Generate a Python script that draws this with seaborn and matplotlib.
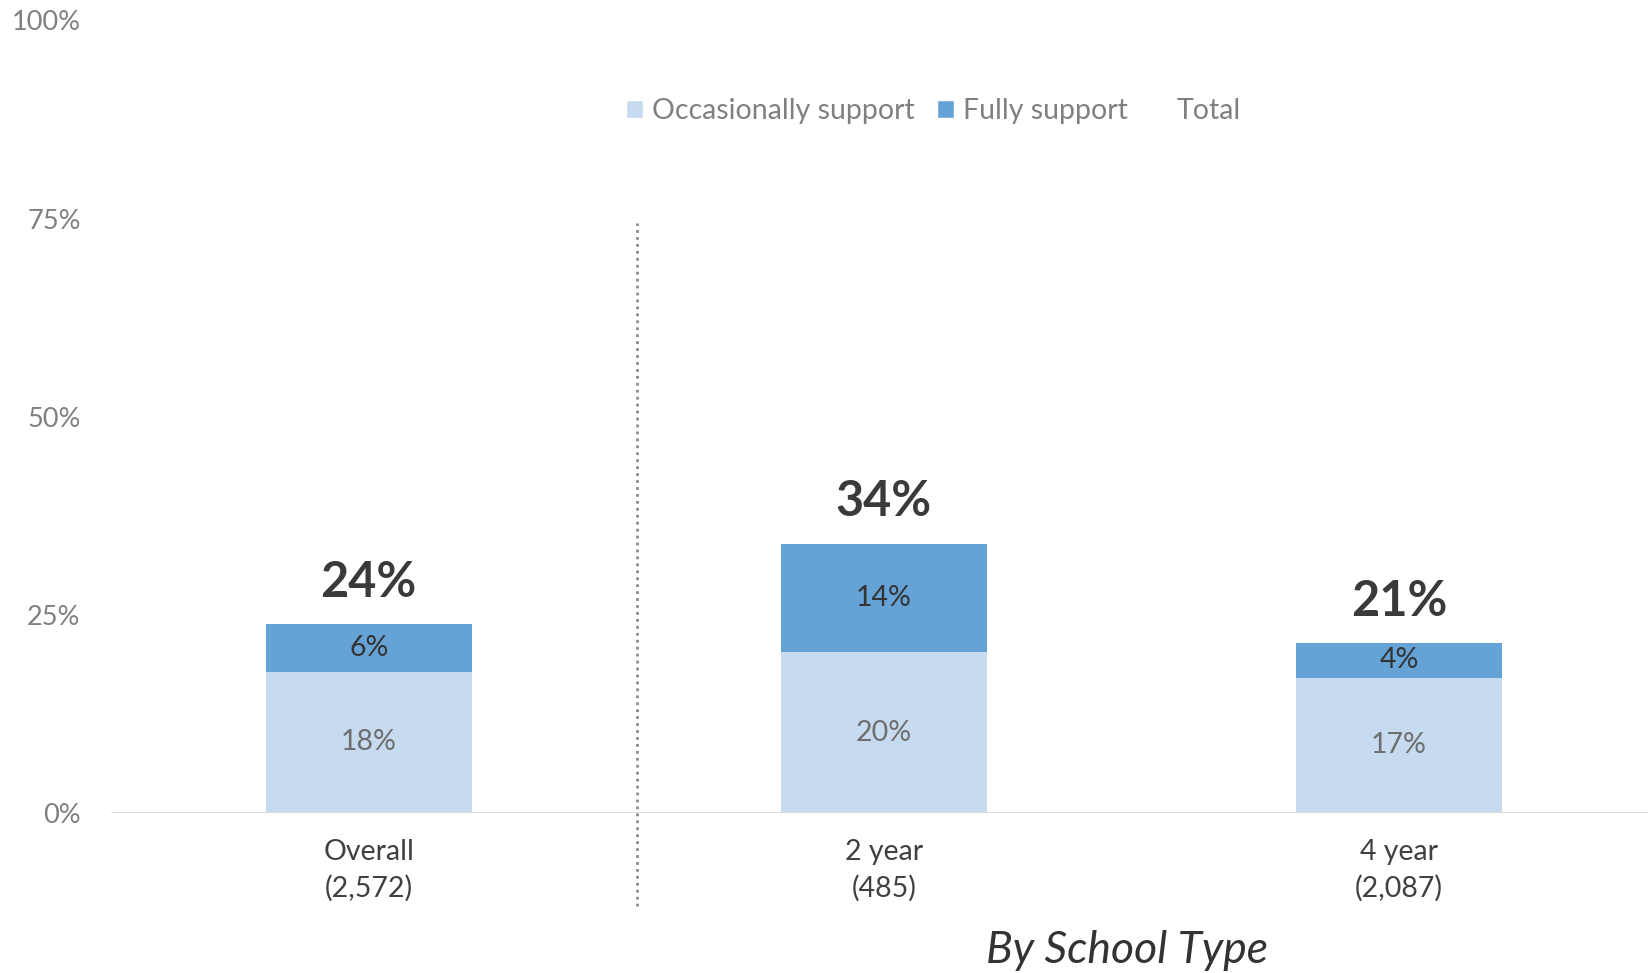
import matplotlib
matplotlib.use('Agg')
import matplotlib.pyplot as plt
from matplotlib.patches import Patch
import seaborn as sns
import pandas as pd

# dados
categorias = ['Overall\n(2,572)', '2 year\n(485)', '4 year\n(2,087)']
ocasional = [17.8, 20.3, 17.1]
total_apoio = [6.0, 13.7, 4.3]
legenda = ['Occasionally support', 'Fully support', 'Total']
yticks = [0, 25, 50, 75, 100]
yticklabels = ['0%', '25%', '50%', '75%', '100%']

cor_clara = '#C6DBEF'
cor_escura = '#65A3D7'

df = pd.DataFrame({'cat': categorias, 'ocasional': ocasional, 'total_apoio': total_apoio})
df['total'] = df['ocasional'] + df['total_apoio']

sns.set_style('white')
plt.rcParams['font.family'] = ['Lato', 'DejaVu Sans']

fig = plt.figure(figsize=(16.48, 9.73), dpi=100)
ax = fig.add_axes([0.0674, 0.1644, 0.9326, 0.8146])

# barras empilhadas: total atras, ocasional na frente
sns.barplot(data=df, x='cat', y='total', color=cor_escura, width=0.4, saturation=1,
            linewidth=0, ax=ax)
sns.barplot(data=df, x='cat', y='ocasional', color=cor_clara, width=0.4, saturation=1,
            linewidth=0, ax=ax)

ax.set_ylim(0, 100)
ax.set_xlim(-0.5, 2.483)
ax.set_yticks(yticks)
ax.set_yticklabels(yticklabels, color='#808080', fontsize=19.5)
ax.tick_params(axis='y', length=0, pad=22)
ax.tick_params(axis='x', length=0, pad=19, labelsize=20.5, labelcolor='#404040')
for lbl in ax.get_xticklabels():
    lbl.set_linespacing(1.45)
ax.set_xlabel('')
ax.set_ylabel('')
for s in ax.spines.values():
    s.set_visible(False)
ax.axhline(0, color='#D9D9D9', lw=2, zorder=3)

# rotulos
for i, row in df.iterrows():
    ax.text(i, row['ocasional'] / 2, f"{round(row['ocasional'])}%", ha='center', va='center',
            fontsize=20.5, color='#6E6E6E')
    ax.text(i, row['ocasional'] + row['total_apoio'] / 2, f"{round(row['total_apoio'])}%",
            ha='center', va='center', fontsize=20.5, color='#333333')
    ax.annotate(f"{round(row['total'])}%", (i, row['total']), xytext=(0, 30),
                textcoords='offset points', ha='center', va='center',
                fontsize=35, fontweight='bold', color='#3A3A3A')

# linha pontilhada separando Overall
ax.plot([0.52, 0.52], [-11.7, 74.5], color='#8C8C8C', lw=2, ls=(0, (1, 1.5)), clip_on=False)

handles = [Patch(facecolor=cor_clara), Patch(facecolor=cor_escura),
           Patch(facecolor='none', edgecolor='none')]
ax.legend(handles, legenda, loc='center', bbox_to_anchor=(0.535, 0.886), ncol=3,
          frameon=False, fontsize=20.5, labelcolor='#808080', handlelength=0.6,
          handleheight=0.6, handletextpad=0.3, columnspacing=0.8)

fig.text(0.684, 0.023, 'By School Type', ha='center', va='center', fontsize=32,
         fontstyle='italic', color='#333333')

plt.savefig('out.png', dpi=100)
